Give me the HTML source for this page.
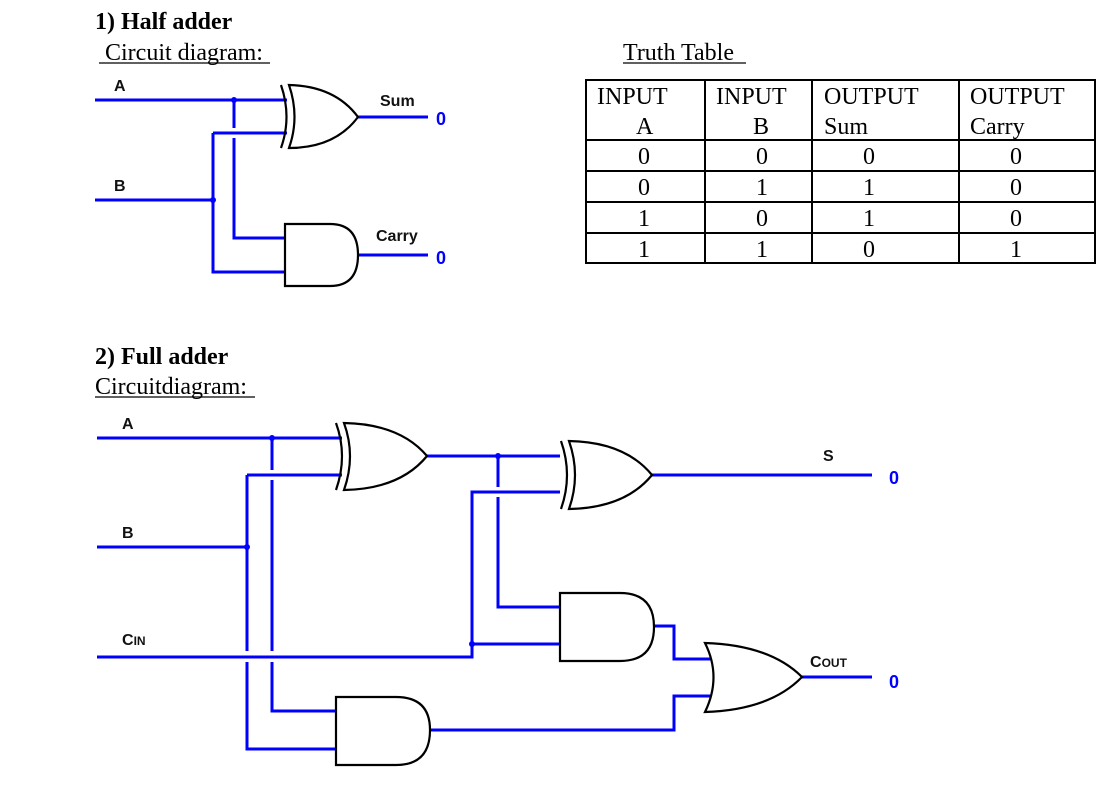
<!DOCTYPE html>
<html><head><meta charset="utf-8"><style>
html,body{margin:0;padding:0;background:#fff;}
svg{display:block}
.t{font-family:"Liberation Serif",serif;font-size:24px;fill:#000}
.l{font-family:"Liberation Sans",sans-serif;font-weight:bold;font-size:16px;fill:#111}
.z{font-family:"Liberation Sans",sans-serif;font-weight:bold;font-size:18px;fill:#00f}
.w{stroke:#0000ff;stroke-width:3;fill:none}
.g{stroke:#000;stroke-width:2.2;fill:#fff}
.gb{stroke:#000;stroke-width:2.2;fill:none}
.tl{stroke:#000;stroke-width:2;fill:none}
</style></head><body>
<svg width="1120" height="804" viewBox="0 0 1120 804" xmlns="http://www.w3.org/2000/svg">
<text x="95" y="29" class="t" font-weight="bold">1) Half adder</text>
<text x="99" y="60" class="t" xml:space="preserve"> Circuit diagram:</text>
<line x1="99" y1="63" x2="270" y2="63" stroke="#000" stroke-width="1.3"/>
<text x="623" y="60" class="t">Truth Table</text>
<line x1="623" y1="63" x2="746" y2="63" stroke="#000" stroke-width="1.3"/>
<text x="95" y="364" class="t" font-weight="bold">2) Full adder</text>
<text x="95" y="394" class="t">Circuitdiagram:</text>
<line x1="95" y1="397" x2="255" y2="397" stroke="#000" stroke-width="1.3"/>

<rect x="586" y="80" width="509" height="183" class="tl"/>
<g stroke="#000" stroke-width="2">
<line x1="705" y1="80" x2="705" y2="263"/><line x1="812" y1="80" x2="812" y2="263"/><line x1="959" y1="80" x2="959" y2="263"/>
<line x1="586" y1="140" x2="1095" y2="140"/><line x1="586" y1="171" x2="1095" y2="171"/><line x1="586" y1="202" x2="1095" y2="202"/><line x1="586" y1="233" x2="1095" y2="233"/>
</g>
<g class="t">
<text x="597" y="104">INPUT</text><text x="716" y="104">INPUT</text><text x="824" y="104">OUTPUT</text><text x="970" y="104">OUTPUT</text>
<text x="636" y="134">A</text><text x="753" y="134">B</text><text x="824" y="134">Sum</text><text x="970" y="134">Carry</text>
</g>
<g class="t" text-anchor="middle">
<text x="644" y="164">0</text><text x="762" y="164">0</text><text x="869" y="164">0</text><text x="1016" y="164">0</text>
<text x="644" y="195">0</text><text x="762" y="195">1</text><text x="869" y="195">1</text><text x="1016" y="195">0</text>
<text x="644" y="226">1</text><text x="762" y="226">0</text><text x="869" y="226">1</text><text x="1016" y="226">0</text>
<text x="644" y="257">1</text><text x="762" y="257">1</text><text x="869" y="257">0</text><text x="1016" y="257">1</text>
</g>

<path class="w" d="M95 100 H287"/>
<path class="w" d="M95 200 H213"/>
<path class="w" d="M213 133 H287"/>
<path class="w" d="M213 133 V272 H285"/>
<path class="w" d="M234 100 V128 M234 138 V238 H285"/>
<path class="w" d="M358 117 H428"/>
<path class="w" d="M358 255 H428"/>
<circle cx="234" cy="100" r="3" fill="#00f"/>
<circle cx="213" cy="200" r="3" fill="#00f"/>
<path class="g" d="M289 85 Q335 86 358 117 Q335 148 289 148 Q300 117 289 85 Z"/>
<path class="gb" d="M281 85 Q292 117 281 148"/>
<path class="g" d="M285 224 H330 Q358 224 358 255 Q358 286 330 286 H285 Z"/>
<text x="114" y="91" class="l">A</text>
<text x="114" y="191" class="l">B</text>
<text x="380" y="106" class="l">Sum</text>
<text x="376" y="241" class="l">Carry</text>
<text x="436" y="125" class="z">0</text>
<text x="436" y="264" class="z">0</text>

<path class="w" d="M97 438 H342"/>
<path class="w" d="M97 547 H247"/>
<path class="w" d="M247 475 H342"/>
<path class="w" d="M247 475 V651 M247 662 V749 H336"/>
<path class="w" d="M272 438 V470 M272 480 V651 M272 662 V711 H336"/>
<path class="w" d="M97 657 H472 V492 H560"/>
<path class="w" d="M472 644 H560"/>
<path class="w" d="M427 456 H560"/>
<path class="w" d="M498 456 V487 M498 497 V607 H560"/>
<path class="w" d="M652 475 H872"/>
<path class="w" d="M654 626 H674 V659 H714"/>
<path class="w" d="M430 730 H674 V696 H714"/>
<path class="w" d="M800 677 H872"/>
<circle cx="272" cy="438" r="3" fill="#00f"/>
<circle cx="247" cy="547" r="3" fill="#00f"/>
<circle cx="498" cy="456" r="3" fill="#00f"/>
<circle cx="472" cy="644" r="3" fill="#00f"/>
<path class="g" d="M344 423 Q400 424 427 456 Q400 489 344 490 Q356 456 344 423 Z"/>
<path class="gb" d="M336 423 Q348 456 336 490"/>
<path class="g" d="M569 441 Q625 442 652 475 Q625 508 569 509 Q581 475 569 441 Z"/>
<path class="gb" d="M561 441 Q573 475 561 509"/>
<path class="g" d="M560 593 H620 Q654 593 654 627 Q654 661 620 661 H560 Z"/>
<path class="g" d="M336 697 H396 Q430 697 430 730 Q430 765 396 765 H336 Z"/>
<path class="g" d="M705 643 Q770 645 802 677 Q770 710 705 712 Q722 677 705 643 Z"/>
<text x="122" y="429" class="l">A</text>
<text x="122" y="538" class="l">B</text>
<text x="122" y="645" class="l">C<tspan font-size="12">IN</tspan></text>
<text x="823" y="461" class="l">S</text>
<text x="810" y="667" class="l">C<tspan font-size="12">OUT</tspan></text>
<text x="889" y="484" class="z">0</text>
<text x="889" y="688" class="z">0</text>
</svg>
</body></html>
